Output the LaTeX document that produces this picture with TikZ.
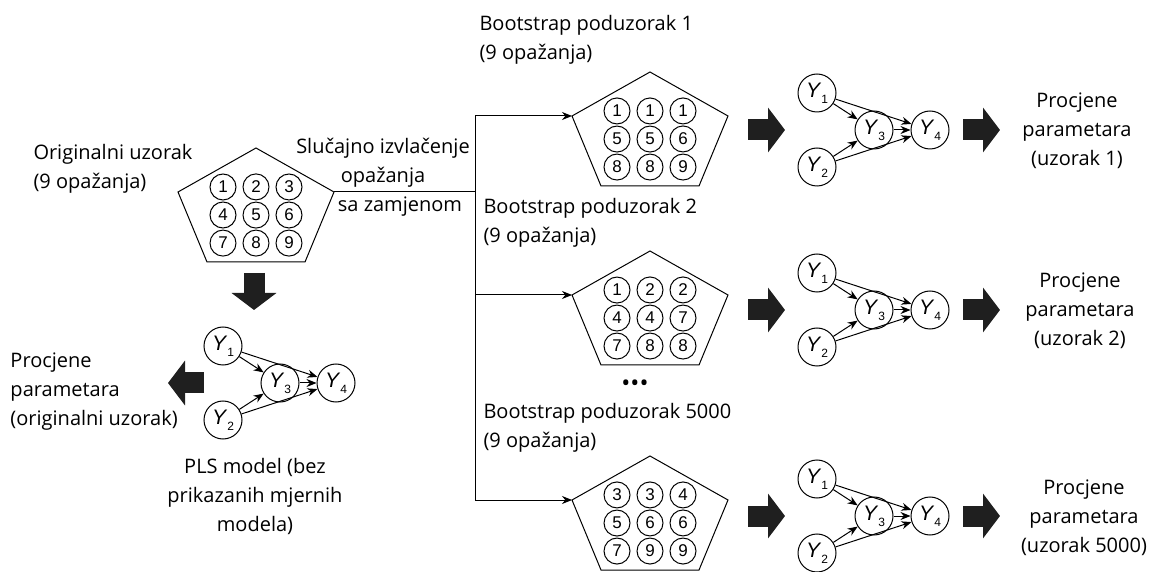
\documentclass[tikz,border=0pt]{standalone}
\usepackage{fontspec}
\setmainfont{Open Sans}
\newfontfamily\figfont{Liberation Sans}
\usetikzlibrary{arrows.meta,matrix,positioning}

\newcommand\lv[1]{\textit{Y}\raisebox{-0.55ex}{\fontsize{6}{6}\selectfont #1}}

\tikzset{
	obs/.style={circle,draw,minimum size=13pt,inner sep=0pt,font=\figfont\fontsize{8.5}{8.5}\selectfont},
	sample/.style={matrix of nodes,nodes={obs},column sep=3pt,row sep=0.5pt,inner sep=0pt},
	lat/.style={circle,draw,minimum size=19pt,inner sep=0pt,font=\figfont\fontsize{10.5}{10.5}\selectfont},
	link/.style={-{Stealth[length=5pt,width=4pt]}},
	bigarrow/.style={draw=black!88,line width=10.5pt,-{Triangle[length=8.5pt,width=22pt]}},
	lbl/.style={font=\fontsize{10}{14.5}\selectfont,inner sep=0pt}
}

\begin{document}
\begin{tikzpicture}[x=0.5pt,y=-0.5pt,line width=0.5pt]
	\useasboundingbox (0,0) rectangle (1152,572);
	
	\draw (256,148) -- ++(78,44) -- ++(-29,70) -- ++(-98,0) -- ++(-29,-70) -- cycle;
	\coordinate (orig) at (334,192);
	\matrix[sample] (m0) at (256,215) {1 & 2 & 3\\ 4 & 5 & 6\\ 7 & 8 & 9\\};
	
	\foreach \n/\y in {1/72,2/251,3/456}{
		\draw (650,\y) -- ++(78,44) -- ++(-29,70) -- ++(-98,0) -- ++(-29,-70) -- cycle;
		\coordinate (s\n) at (572,\y+44);
	}
	\matrix[sample] (m1) at (650,139) {1 & 1 & 1\\ 5 & 5 & 6\\ 8 & 8 & 9\\};
	\matrix[sample] (m2) at (650,318) {1 & 2 & 2\\ 4 & 4 & 7\\ 7 & 8 & 8\\};
	\matrix[sample] (m3) at (650,523) {3 & 3 & 4\\ 5 & 6 & 6\\ 7 & 9 & 9\\};
	
	\coordinate (split) at (475,192);
	\draw (orig) -- (split);
	\draw[link] (split) |- (s1);
	\draw[link] (split) |- (s3);
	\draw[link] (split |- s2) -- (s2);
	
	\foreach \m/\x/\c in {o/223/383,a/817/130,b/817/310,c/817/516}{
		\node[lat] (\m1) at (\x,\c-37) {\lv{1}};
		\node[lat] (\m2) at (\x,\c+37) {\lv{2}};
		\node[lat] (\m3) at (\x+57,\c) {\lv{3}};
		\node[lat] (\m4) at (\x+113,\c) {\lv{4}};
		\draw[link] (\m1) -- (\m3);
		\draw[link] (\m2) -- (\m3);
		\draw[link] (\m1) -- (\m4);
		\draw[link] (\m2) -- (\m4);
		\draw[link] (\m3) -- (\m4);
	}
	
	\draw[bigarrow] (254,273) -- (254,310);
	\draw[bigarrow] (204,383) -- (168,383);
	\foreach \c in {130,310,516}{
		\draw[bigarrow] (748,\c) -- (785,\c);
		\draw[bigarrow] (963,\c) -- (1000,\c);
	}
	
	\node[lbl,align=left,anchor=west] (origlbl) at (33,169) {Originalni uzorak\\(9 opažanja)};
	\node[lbl,align=center] (draw) at (383,177) {Slučajno izvlačenje\\opažanja\\\hspace*{17pt}sa zamjenom};
	\node[lbl,align=left,anchor=west] (b1) at (479,40) {Bootstrap poduzorak 1\\(9 opažanja)};
	\node[lbl,align=left,anchor=west] (b2) at (483,223) {Bootstrap poduzorak 2\\(9 opažanja)};
	\node[lbl,align=left,anchor=west] (b3) at (483,428) {Bootstrap poduzorak 5000\\(9 opažanja)};
	\node[lbl,font=\fontsize{12}{12}\selectfont] (dots) at (635,386) {•••};
	\node[lbl,align=left,anchor=west] (est0) at (10,392) {Procjene\\parametara\\(originalni uzorak)};
	\node[lbl,align=center] (pls) at (255,496) {PLS model (bez\\prikazanih mjernih\\modela)};
	\node[lbl,align=center] (est1) at (1077,131) {Procjene\\parametara\\(uzorak 1)};
	\node[lbl,align=center] (est2) at (1080,311) {Procjene\\parametara\\(uzorak 2)};
	\node[lbl,align=center] (est3) at (1084,518) {Procjene\\parametara\\(uzorak 5000)};
\end{tikzpicture}
\end{document}
